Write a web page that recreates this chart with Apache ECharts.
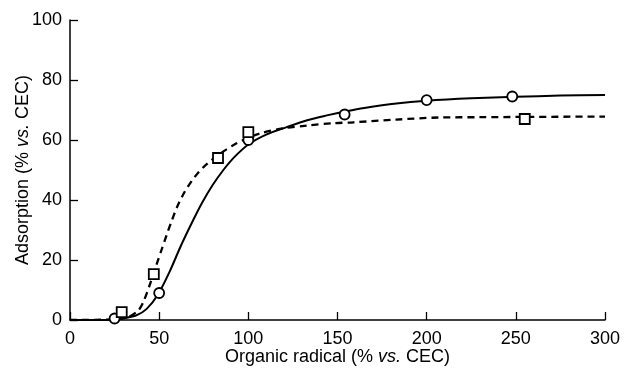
<!DOCTYPE html>
<html>
<head>
<meta charset="utf-8">
<script src="https://cdn.jsdelivr.net/npm/echarts@6/dist/echarts.min.js"></script>
<style>
html,body{margin:0;padding:0;background:#fff;}
#chart{width:624px;height:371px;}
</style>
</head>
<body>
<div id="chart"></div>
<script>
// Measured points (circles)
const circlePoints = [[25,0.5],[50,9],[100,60],[154,68.5],[200,73.3],[248,74.5]];
// Measured points (squares)
const squarePoints = [[29,2.6],[47,15.3],[83,54],[100,62.6],[255,67]];
// Solid fitted curve
const solidCurve = [[0,0],[20,0],[28,0.4],[37,1.5],[43,3.7],[49.5,8.7],[56,16.3],[62,24.5],[68,32],[74,39],[80,45],[86,50],[92,54.2],[100,58.5],[110,61.8],[121.5,64.3],[133,66.6],[144,68.2],[155,69.6],[165,70.7],[183,72.2],[200,73.1],[225,73.9],[250,74.4],[275,74.8],[300,75]];
// Dashed fitted curve
const dashedCurve = [[0,0],[25,0.2],[32.7,1],[38.3,3.2],[41.1,6],[44.9,12],[48.6,18.6],[51.4,23.5],[54,28],[57,33],[60,37.6],[64,42.4],[68.2,46.3],[72,49.2],[76,51.6],[80,53.6],[86,56.2],[92,58.4],[99,60.5],[106.6,62.2],[119.6,63.9],[132.7,64.8],[147.7,65.6],[159,65.9],[183,66.8],[207,67.5],[230,67.6],[255,67.7],[300,67.8]];
const xTicks = [0,50,100,150,200,250,300];
const yTicks = [0,20,40,60,80,100];

const FONT = '"Liberation Sans", Arial, Helvetica, sans-serif';
const FS = 18;
const chart = echarts.init(document.getElementById('chart'), null, {renderer:'canvas'});
chart.setOption({
  animation:false,
  backgroundColor:'#fff',
  grid:{left:70,right:19,top:20,bottom:48,containLabel:false},
  xAxis:{
    type:'value',min:xTicks[0],max:xTicks[xTicks.length-1],interval:50,
    name:'{n|Organic radical (% }{i|vs.}{n| CEC)}',
    nameLocation:'middle',nameGap:28,nameMoveOverlap:false,
    nameTextStyle:{rich:{n:{fontFamily:FONT,fontSize:FS,color:'#000'},i:{fontFamily:FONT,fontSize:FS,fontStyle:'italic',color:'#000'}}},
    axisLine:{show:true,lineStyle:{color:'#000',width:1.5}},
    axisTick:{show:true,inside:true,length:8,lineStyle:{color:'#000',width:1.3}},
    axisLabel:{color:'#000',fontFamily:FONT,fontSize:FS,margin:10},
    splitLine:{show:false}
  },
  yAxis:{
    type:'value',min:yTicks[0],max:yTicks[yTicks.length-1],interval:20,
    name:'{n|Adsorption (% }{i|vs.}{n| CEC)}',
    nameLocation:'middle',nameGap:38,nameMoveOverlap:false,
    nameTextStyle:{rich:{n:{fontFamily:FONT,fontSize:FS,color:'#000'},i:{fontFamily:FONT,fontSize:FS,fontStyle:'italic',color:'#000'}}},
    axisLine:{show:true,lineStyle:{color:'#000',width:1.5}},
    axisTick:{show:true,inside:true,length:8,lineStyle:{color:'#000',width:1.3}},
    axisLabel:{color:'#000',fontFamily:FONT,fontSize:FS,margin:8},
    splitLine:{show:false}
  },
  series:[
    {type:'line',data:solidCurve,smooth:0.3,showSymbol:false,symbol:'none',
     lineStyle:{color:'#000',width:2,type:'solid'},z:2},
    {type:'line',data:dashedCurve,smooth:0.3,showSymbol:false,symbol:'none',
     lineStyle:{color:'#000',width:2.3,type:[7,5]},z:2},
    {type:'scatter',data:circlePoints,symbol:'circle',symbolSize:10,
     itemStyle:{color:'#fff',opacity:1,borderColor:'#000',borderWidth:1.8},z:5},
    {type:'scatter',data:squarePoints,symbol:'rect',symbolSize:10,
     itemStyle:{color:'#fff',opacity:1,borderColor:'#000',borderWidth:1.8},z:5}
  ]
});
</script>
</body>
</html>
